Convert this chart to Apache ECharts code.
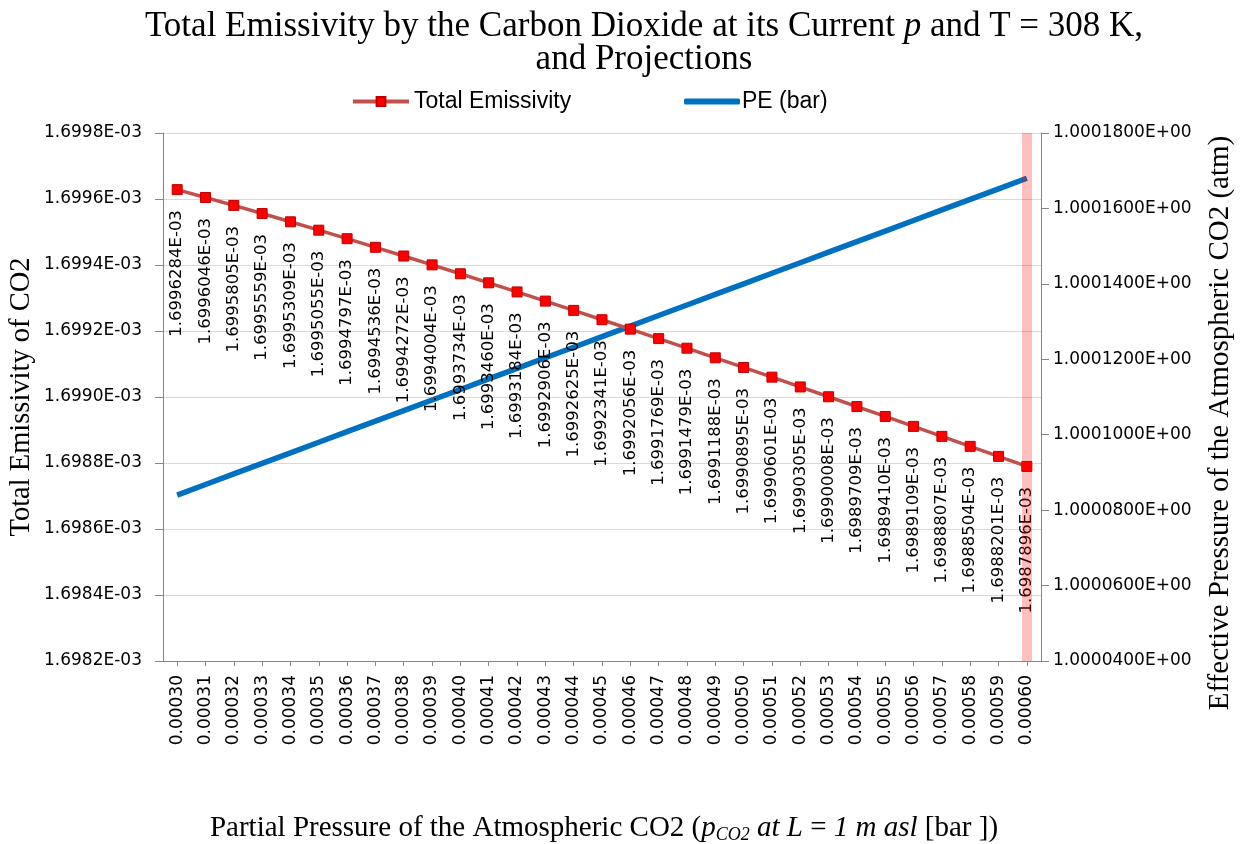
<!DOCTYPE html>
<html>
<head>
<meta charset="utf-8">
<title>Total Emissivity by the Carbon Dioxide</title>
<script src="https://cdn.jsdelivr.net/npm/echarts@6/dist/echarts.min.js"></script>
<style>
  html, body { margin: 0; padding: 0; background: #ffffff; }
  #chart { width: 1241px; height: 844px; }
</style>
</head>
<body>
<div id="chart"></div>
<script>
// Partial pressure of atmospheric CO2 (bar) – category labels
const partialPressures = [
  '0.00030', '0.00031', '0.00032', '0.00033', '0.00034', '0.00035', '0.00036', '0.00037',
  '0.00038', '0.00039', '0.00040', '0.00041', '0.00042', '0.00043', '0.00044', '0.00045',
  '0.00046', '0.00047', '0.00048', '0.00049', '0.00050', '0.00051', '0.00052', '0.00053',
  '0.00054', '0.00055', '0.00056', '0.00057', '0.00058', '0.00059', '0.00060'
];

// Total emissivity of CO2 at T = 308 K
const totalEmissivity = [
  1.6996284E-03, 1.6996046E-03, 1.6995805E-03, 1.6995559E-03, 1.6995309E-03, 1.6995055E-03,
  1.6994797E-03, 1.6994536E-03, 1.6994272E-03, 1.6994004E-03, 1.6993734E-03, 1.6993460E-03,
  1.6993184E-03, 1.6992906E-03, 1.6992625E-03, 1.6992341E-03, 1.6992056E-03, 1.6991769E-03,
  1.6991479E-03, 1.6991188E-03, 1.6990895E-03, 1.6990601E-03, 1.6990305E-03, 1.6990008E-03,
  1.6989709E-03, 1.6989410E-03, 1.6989109E-03, 1.6988807E-03, 1.6988504E-03, 1.6988201E-03,
  1.6987896E-03
];

// Effective pressure PE (atm)
const effectivePressure = [
  1.0000840, 1.0000868, 1.0000896, 1.0000924, 1.0000952, 1.0000980, 1.0001008, 1.0001036,
  1.0001064, 1.0001092, 1.0001120, 1.0001148, 1.0001176, 1.0001204, 1.0001232, 1.0001260,
  1.0001288, 1.0001316, 1.0001344, 1.0001372, 1.0001400, 1.0001428, 1.0001456, 1.0001484,
  1.0001512, 1.0001540, 1.0001568, 1.0001596, 1.0001624, 1.0001652, 1.0001680
];

// Axis ranges
const emissivityRange = { min: 0.0016982, max: 0.0016998, interval: 0.0000002 };
const pressureRange = { min: 1.00004, max: 1.00018, interval: 0.00002 };

// Highlighted category
const highlightedPressure = '0.00060';

// Excel-style scientific notation, e.g. 1.6998E-03
function sci(v, digits) {
  const parts = Number(v).toExponential(digits).split('e');
  const e = parseInt(parts[1], 10);
  return parts[0] + 'E' + (e < 0 ? '-' : '+') + String(Math.abs(e)).padStart(2, '0');
}

const SANS = 'DejaVu Sans';
const SERIF = 'Liberation Serif';
const LEGEND_FONT = 'Liberation Sans';

const chart = echarts.init(document.getElementById('chart'), null, { renderer: 'canvas' });

function serifToken(size, italic) {
  return { fontFamily: SERIF, fontSize: size, fontStyle: italic ? 'italic' : 'normal', fill: '#000', align: 'center' };
}

const option = {
  backgroundColor: '#ffffff',
  animation: false,
  grid: { left: 163, right: 200, top: 133, bottom: 183, containLabel: false },
  legend: [
    {
      data: ['Total Emissivity'],
      left: 346, top: 85,
      itemWidth: 56, itemHeight: 11,
      lineStyle: { width: 4 },
      textStyle: { fontFamily: LEGEND_FONT, fontSize: 23, color: '#000' },
      selectedMode: false
    },
    {
      data: [{ name: 'PE (bar)', icon: 'roundRect' }],
      left: 679, top: 85,
      itemWidth: 56, itemHeight: 6,
      itemGap: 0,
      textStyle: { fontFamily: LEGEND_FONT, fontSize: 23, color: '#000', padding: [0, 0, 0, -3] },
      selectedMode: false
    }
  ],
  xAxis: {
    type: 'category',
    data: partialPressures,
    boundaryGap: true,
    axisLine: { show: true, lineStyle: { color: '#868686', width: 1 } },
    axisTick: { show: true, alignWithLabel: true, length: 5, lineStyle: { color: '#868686' } },
    axisLabel: {
      interval: 0, rotate: 90, margin: 14,
      fontFamily: SANS, fontSize: 17, color: '#000'
    },
    splitLine: { show: false }
  },
  yAxis: [
    {
      type: 'value',
      min: emissivityRange.min, max: emissivityRange.max, interval: emissivityRange.interval,
      axisLine: { show: true, lineStyle: { color: '#868686', width: 1 } },
      axisTick: { show: true, length: 8, lineStyle: { color: '#868686' } },
      axisLabel: {
        margin: 21, fontFamily: SANS, fontSize: 17, color: '#000',
        formatter: v => sci(v, 4)
      },
      splitLine: { show: true, lineStyle: { color: '#D9D9D9', width: 1 } }
    },
    {
      type: 'value',
      position: 'right',
      min: pressureRange.min, max: pressureRange.max, interval: pressureRange.interval,
      axisLine: { show: true, lineStyle: { color: '#868686', width: 1 } },
      axisTick: { show: true, length: 8, lineStyle: { color: '#868686' } },
      axisLabel: {
        margin: 12, fontFamily: SANS, fontSize: 17, color: '#000',
        formatter: v => sci(v, 7)
      },
      splitLine: { show: false }
    }
  ],
  series: [
    {
      name: 'PE (bar)',
      type: 'line',
      yAxisIndex: 1,
      data: effectivePressure,
      symbol: 'none',
      z: 2,
      lineStyle: { color: '#0070C0', width: 5.5 },
      itemStyle: { color: '#0070C0' }
    },
    {
      name: 'Total Emissivity',
      type: 'line',
      yAxisIndex: 0,
      data: totalEmissivity,
      symbol: 'rect',
      symbolSize: 10,
      z: 3,
      lineStyle: { color: '#C0504D', width: 3.5 },
      itemStyle: { color: '#FF0000', borderColor: '#C00000', borderWidth: 1 },
      label: {
        show: true,
        position: 'bottom',
        distance: 15,
        rotate: 90,
        align: 'right',
        verticalAlign: 'middle',
        fontFamily: SANS, fontSize: 16.5, color: '#000',
        formatter: p => sci(p.value, 7)
      },
      markLine: {
        silent: true,
        symbol: ['none', 'none'],
        label: { show: false },
        lineStyle: { color: 'rgba(255,0,0,0.25)', width: 10, type: 'solid' },
        data: [{ xAxis: highlightedPressure }]
      }
    }
  ],
  graphic: [
    {
      type: 'text', x: 644, y: 27,
      style: {
        text: '{n|Total Emissivity by the Carbon Dioxide at its Current }{i|p}{n| and T = 308 K,}',
        textAlign: 'center', textVerticalAlign: 'middle',
        fontFamily: SERIF, fontSize: 35, fill: '#000',
        rich: { n: serifToken(35, false), i: serifToken(35, true) }
      }
    },
    {
      type: 'text', x: 644, y: 60,
      style: {
        text: 'and Projections',
        textAlign: 'center', textVerticalAlign: 'middle',
        fontFamily: SERIF, fontSize: 35, fill: '#000'
      }
    },
    {
      type: 'text', x: 22, y: 397, rotation: Math.PI / 2,
      style: {
        text: 'Total Emissivity of CO2',
        textAlign: 'center', textVerticalAlign: 'middle',
        fontFamily: SERIF, fontSize: 28.5, fill: '#000'
      }
    },
    {
      type: 'text', x: 1220, y: 423, rotation: Math.PI / 2,
      style: {
        text: 'Effective Pressure of the Atmospheric CO2 (atm)',
        textAlign: 'center', textVerticalAlign: 'middle',
        fontFamily: SERIF, fontSize: 29, fill: '#000'
      }
    },
    {
      type: 'text', x: 604, y: 828,
      style: {
        text: '{n|Partial Pressure of the Atmospheric CO2 (}{i|p}{s|CO2}{i| at L }{n|=}{i| 1 m asl}{n| [bar ])}',
        textAlign: 'center', textVerticalAlign: 'middle',
        fontFamily: SERIF, fontSize: 29, fill: '#000',
        rich: {
          n: serifToken(29, false),
          i: serifToken(29, true),
          s: Object.assign(serifToken(18, true), { padding: [14, 0, 0, 0] })
        }
      }
    }
  ]
};

chart.setOption(option);
</script>
</body>
</html>
